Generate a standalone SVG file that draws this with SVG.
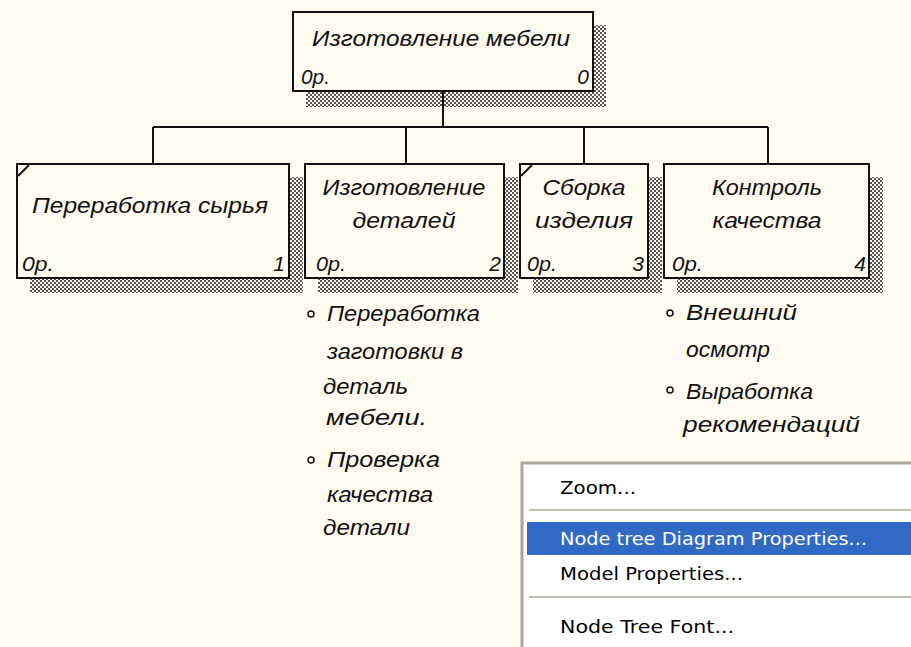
<svg xmlns="http://www.w3.org/2000/svg" width="911" height="647" viewBox="0 0 911 647">
<defs>
<pattern id="hatch" width="4" height="4" patternUnits="userSpaceOnUse">
<rect x="0" y="0" width="2" height="2" fill="#555"/>
<rect x="2" y="2" width="2" height="2" fill="#555"/>
</pattern>
<style>
.box{fill:#fffbf0;stroke:#111;stroke-width:2}
.sh{fill:url(#hatch)}
.t{font-family:"Liberation Sans",Arial,sans-serif;font-style:italic;font-size:22px;fill:#111}
.s{font-family:"Liberation Sans",Arial,sans-serif;font-style:italic;font-size:21px;fill:#111}
.c{text-anchor:middle}
.e{text-anchor:end}
.con{stroke:#111;stroke-width:2;fill:none}
.bul{fill:none;stroke:#111;stroke-width:1.5}
.m{font-family:"DejaVu Sans","Liberation Sans",sans-serif;font-size:17px;fill:#000}
</style>
</defs>
<rect width="911" height="647" fill="#fffbf0"/>
<g id="node0">
<rect class="sh" x="306" y="25" width="300" height="82"/>
<rect class="box" x="293" y="12" width="300" height="79"/>
<text class="t c" x="441" y="46" textLength="258" lengthAdjust="spacingAndGlyphs">Изготовление мебели</text>
<text class="s" x="301" y="84" textLength="29" lengthAdjust="spacingAndGlyphs">0р.</text>
<text class="s e" x="589" y="84">0</text>
</g>
<g id="node1">
<rect class="sh" x="30" y="177" width="273" height="116"/>
<rect class="box" x="17" y="164" width="272" height="114"/>
<path class="con" d="M18 176L29 165" stroke-width="1.5"/>
<text class="t c" x="150" y="213" textLength="236" lengthAdjust="spacingAndGlyphs">Переработка сырья</text>
<text class="s" x="22" y="271" textLength="32" lengthAdjust="spacingAndGlyphs">0р.</text>
<text class="s e" x="285" y="271">1</text>
</g>
<g id="node2">
<rect class="sh" x="318" y="177" width="200" height="116"/>
<rect class="box" x="305" y="164" width="199" height="114"/>
<text class="t c" x="404" y="195" textLength="163" lengthAdjust="spacingAndGlyphs">Изготовление</text>
<text class="t c" x="404" y="228" textLength="103" lengthAdjust="spacingAndGlyphs">деталей</text>
<text class="s" x="316" y="271" textLength="30" lengthAdjust="spacingAndGlyphs">0р.</text>
<text class="s e" x="501" y="271">2</text>
</g>
<g id="node3">
<rect class="sh" x="533" y="177" width="129" height="116"/>
<rect class="box" x="520" y="164" width="128" height="114"/>
<path class="con" d="M521 176L532 165" stroke-width="1.5"/>
<text class="t c" x="584" y="195" textLength="83" lengthAdjust="spacingAndGlyphs">Сборка</text>
<text class="t c" x="584" y="228" textLength="98" lengthAdjust="spacingAndGlyphs">изделия</text>
<text class="s" x="527" y="271" textLength="30" lengthAdjust="spacingAndGlyphs">0р.</text>
<text class="s e" x="644" y="271">3</text>
</g>
<g id="node4">
<rect class="sh" x="677" y="177" width="206" height="116"/>
<rect class="box" x="664" y="164" width="205" height="114"/>
<text class="t c" x="767" y="195" textLength="110" lengthAdjust="spacingAndGlyphs">Контроль</text>
<text class="t c" x="767" y="228" textLength="109" lengthAdjust="spacingAndGlyphs">качества</text>
<text class="s" x="672" y="271" textLength="31" lengthAdjust="spacingAndGlyphs">0р.</text>
<text class="s e" x="866" y="271">4</text>
</g>
<g id="connectors">
<path class="con" d="M443 92V127M153 127H768M153 127V163M406 127V163M584 127V163M768 127V163"/>
</g>
<g id="notes2">
<circle class="bul" cx="311" cy="314" r="3"/>
<text class="t" x="327" y="321" textLength="153" lengthAdjust="spacingAndGlyphs">Переработка</text>
<text class="t" x="327" y="359" textLength="136" lengthAdjust="spacingAndGlyphs">заготовки в</text>
<text class="t" x="323" y="394" textLength="85" lengthAdjust="spacingAndGlyphs">деталь</text>
<text class="t" x="326" y="425" textLength="101" lengthAdjust="spacingAndGlyphs">мебели.</text>
<circle class="bul" cx="311" cy="460" r="3"/>
<text class="t" x="327" y="467" textLength="113" lengthAdjust="spacingAndGlyphs">Проверка</text>
<text class="t" x="327" y="502" textLength="106" lengthAdjust="spacingAndGlyphs">качества</text>
<text class="t" x="323" y="535" textLength="87" lengthAdjust="spacingAndGlyphs">детали</text>
</g>
<g id="notes4">
<circle class="bul" cx="670" cy="313" r="3"/>
<text class="t" x="686" y="320" textLength="111" lengthAdjust="spacingAndGlyphs">Внешний</text>
<text class="t" x="686" y="357" textLength="84" lengthAdjust="spacingAndGlyphs">осмотр</text>
<circle class="bul" cx="670" cy="390" r="3"/>
<text class="t" x="686" y="399" textLength="127" lengthAdjust="spacingAndGlyphs">Выработка</text>
<text class="t" x="683" y="432" textLength="177" lengthAdjust="spacingAndGlyphs">рекомендаций</text>
</g>
<g id="menu">
<rect x="522" y="463" width="395" height="190" fill="#ffffff" stroke="#aca899" stroke-width="3"/>
<text class="m" x="560" y="494" textLength="76" lengthAdjust="spacingAndGlyphs">Zoom...</text>
<line x1="529" y1="510" x2="911" y2="510" stroke="#aca899" stroke-width="1.5"/>
<rect x="527" y="522" width="384" height="33" fill="#316ac5"/>
<text class="m" x="560" y="545" style="fill:#fff" textLength="307" lengthAdjust="spacingAndGlyphs">Node tree Diagram Properties...</text>
<text class="m" x="560" y="580" textLength="183" lengthAdjust="spacingAndGlyphs">Model Properties...</text>
<line x1="529" y1="597" x2="911" y2="597" stroke="#aca899" stroke-width="1.5"/>
<text class="m" x="560" y="633" textLength="174" lengthAdjust="spacingAndGlyphs">Node Tree Font...</text>
</g>
</svg>
